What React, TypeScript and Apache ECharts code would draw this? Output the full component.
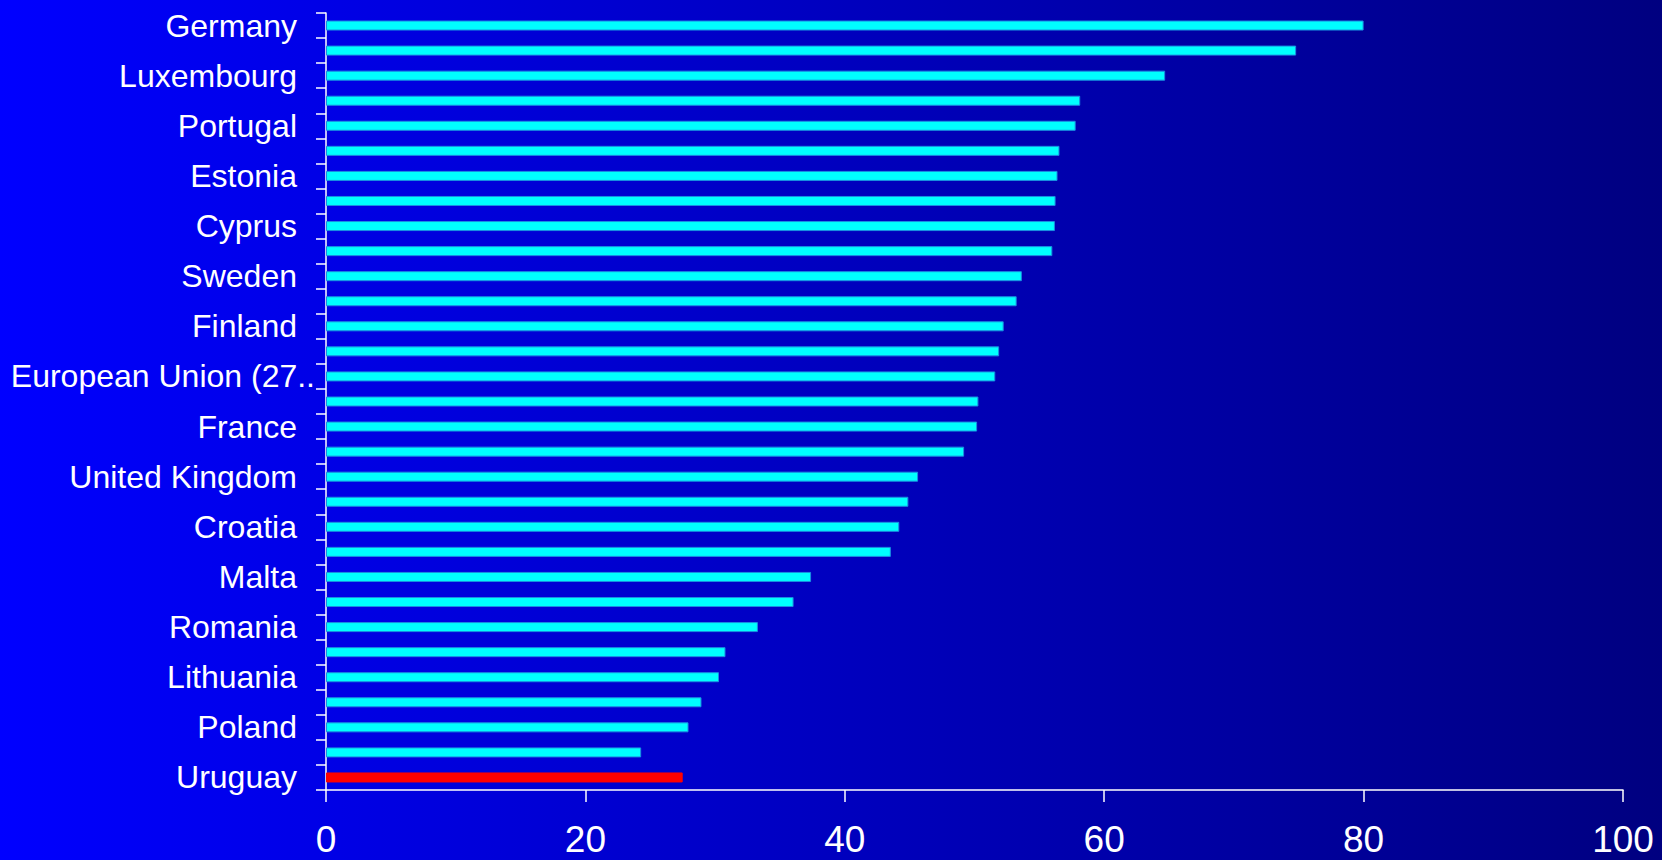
import React, { useEffect, useRef } from "react";
import * as echarts from "echarts";

const categories = [
  "Germany", "Netherlands", "Luxembourg", "Austria", "Portugal", "Belgium",
  "Estonia", "Denmark", "Cyprus", "Ireland", "Sweden", "Slovenia",
  "Finland", "Czech Republic", "European Union (27 countries)", "Spain",
  "France", "Latvia", "United Kingdom", "Italy", "Croatia", "Hungary",
  "Malta", "Slovakia", "Romania", "Greece", "Lithuania", "Bulgaria",
  "Poland", "Euro area", "Uruguay",
];

const values = [
  80.0, 74.8, 64.7, 58.15, 57.8, 56.55, 56.4, 56.25, 56.2, 56.0,
  53.65, 53.25, 52.25, 51.9, 51.6, 50.3, 50.2, 49.2, 45.65, 44.9,
  44.2, 43.55, 37.4, 36.05, 33.3, 30.8, 30.3, 28.95, 27.95, 24.3, 27.5,
];

const highlighted = ["Uruguay"];

const xTicks = { min: 0, max: 100, interval: 20 };

export default function App() {
  const ref = useRef<HTMLDivElement>(null);

  useEffect(() => {
    document.body.style.margin = "0";
    if (!ref.current) return;
    const chart = echarts.init(ref.current, undefined, { renderer: "svg" });
    const font = "'Liberation Sans', Arial, sans-serif";
    const labelFont = "32px 'Liberation Sans', Arial, sans-serif";
    const labelStyle = { color: "#ffffff", fontSize: 32, fontFamily: font };
    chart.setOption({
      animation: false,
      backgroundColor: {
        type: "linear",
        x: 0,
        y: 0,
        x2: 1,
        y2: 0,
        colorStops: [
          { offset: 0, color: "#0000FF" },
          { offset: 1, color: "#000080" },
        ],
      },
      grid: {
        left: 326,
        right: 39,
        top: 13,
        bottom: 70,
        containLabel: false,
        outerBoundsMode: "none",
      },
      xAxis: {
        type: "value",
        min: xTicks.min,
        max: xTicks.max,
        interval: xTicks.interval,
        splitLine: { show: false },
        axisLine: { show: true, lineStyle: { color: "#ffffff", width: 1.5 } },
        axisTick: { show: true, length: 12, lineStyle: { color: "#ffffff", width: 1.5 } },
        axisLabel: {
          color: "#ffffff",
          fontSize: 37,
          lineHeight: 37,
          fontFamily: font,
          margin: 31,
        },
      },
      yAxis: {
        type: "category",
        inverse: true,
        data: categories,
        axisLine: { show: true, lineStyle: { color: "#ffffff", width: 1.5 } },
        axisTick: {
          show: true,
          interval: 0,
          length: 10,
          alignWithLabel: false,
          lineStyle: { color: "#ffffff", width: 1.5 },
        },
        axisLabel: {
          interval: 1,
          color: "#ffffff",
          fontSize: 32,
          fontFamily: font,
          margin: 11,
          formatter: (value: string) => {
            if (value.startsWith("European Union")) {
              const t = echarts.format.truncateText(value, 308, labelFont, "..", {});
              return "{e|" + t + "}";
            }
            return "{n|" + value + "}";
          },
          rich: {
            n: { ...labelStyle, padding: [0, 18, 0, 0] },
            e: { ...labelStyle },
          },
        },
      },
      series: [
        {
          type: "bar",
          barWidth: 10,
          data: values.map((v, i) => ({
            value: v,
            itemStyle: {
              color: highlighted.includes(categories[i]) ? "#FF0000" : "#00FFFF",
              borderColor: highlighted.includes(categories[i]) ? "#FF0000" : "#1a8fe0",
              borderWidth: 1,
            },
          })),
        },
      ],
    });
    return () => chart.dispose();
  }, []);

  return <div ref={ref} style={{ width: 1662, height: 860 }} />;
}
